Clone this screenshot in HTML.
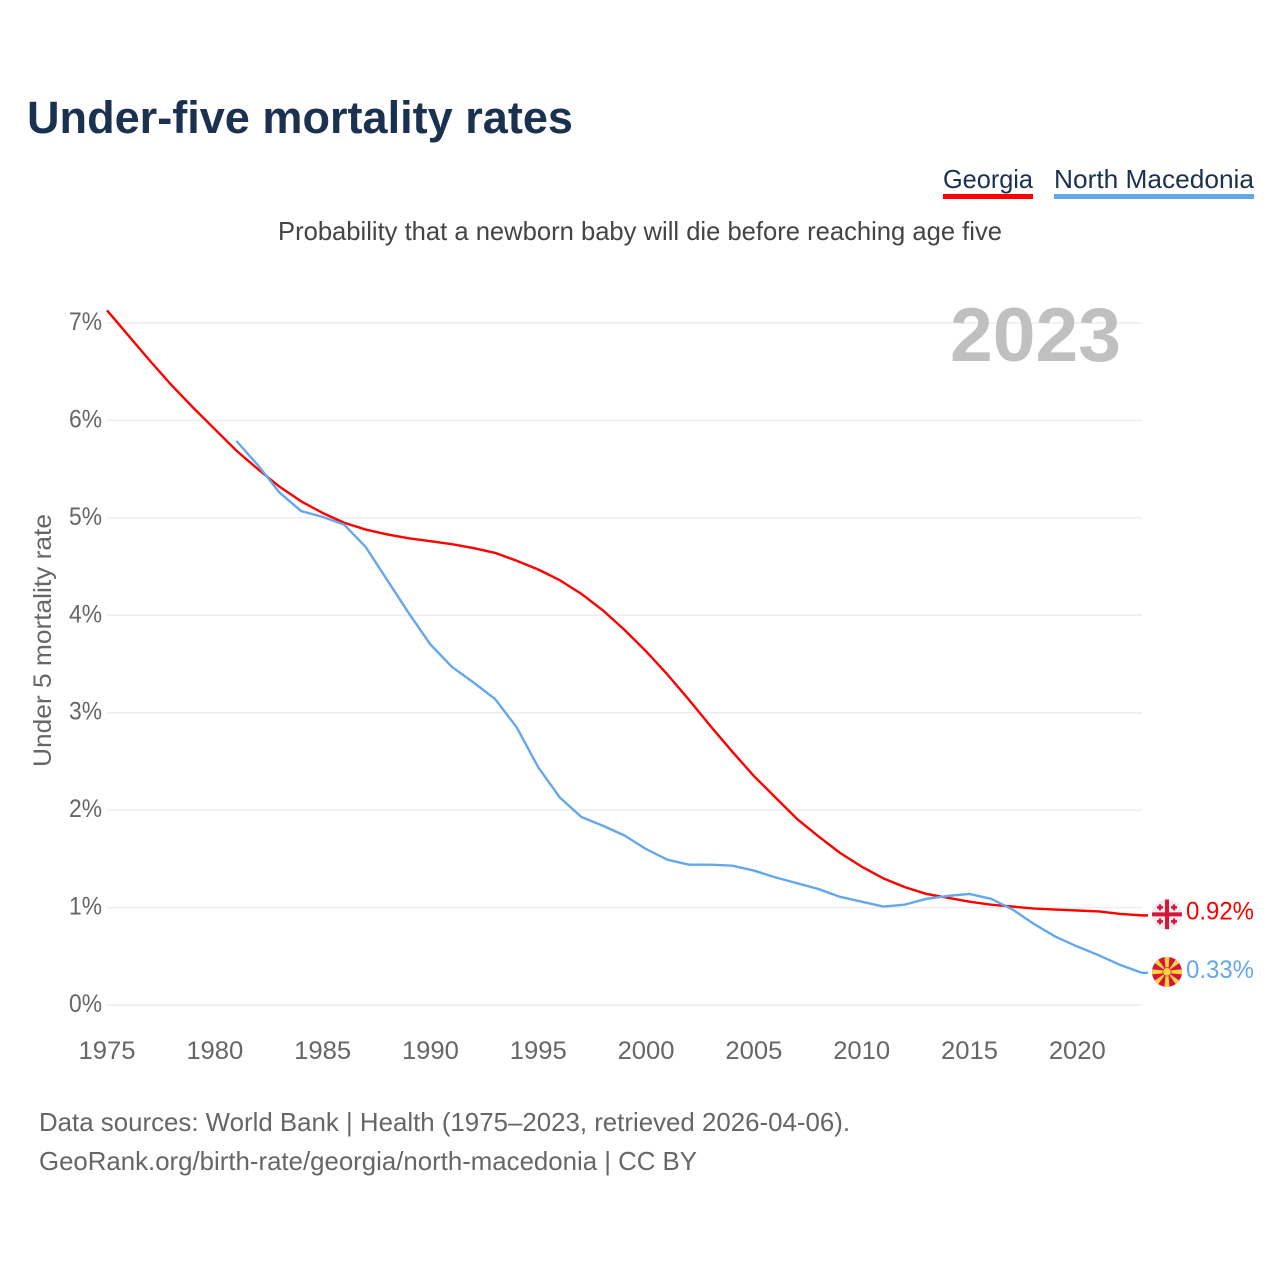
<!DOCTYPE html>
<html lang="en">
<head>
<meta charset="utf-8">
<title>Under-five mortality rates</title>
<style>
html,body{margin:0;padding:0;background:#fff;}
svg{display:block;}
text{font-family:"Liberation Sans",sans-serif;}
</style>
</head>
<body>
<svg id="chart" xmlns="http://www.w3.org/2000/svg" width="1280" height="1280" viewBox="0 0 1280 1280">
  <rect x="0" y="0" width="1280" height="1280" fill="#ffffff"/>
  <text x="27" y="133" font-size="45" font-weight="700" fill="#1a3150" textLength="546" lengthAdjust="spacingAndGlyphs">Under-five mortality rates</text>

  <g>
    <text x="943" y="188" font-size="26" fill="#1a3150" textLength="90" lengthAdjust="spacingAndGlyphs">Georgia</text>
    <rect x="943" y="194" width="90" height="5" fill="#ff0000"/>
  </g>
  <g>
    <text x="1054" y="188" font-size="26" fill="#1a3150" textLength="200" lengthAdjust="spacingAndGlyphs">North Macedonia</text>
    <rect x="1054" y="194" width="200" height="5" fill="#64a8ec"/>
  </g>

  <text x="278" y="240" font-size="26" fill="#444444" textLength="724" lengthAdjust="spacingAndGlyphs">Probability that a newborn baby will die before reaching age five</text>

  <g id="grid"></g>
  <g id="yTicks"></g>
  <g id="xTicks"></g>

  <text x="950" y="361" font-size="76" font-weight="700" fill="#c0c0c0" textLength="171" lengthAdjust="spacingAndGlyphs">2023</text>

  <text transform="translate(51,767) rotate(-90)" x="0" y="0" font-size="25" fill="#666666" textLength="253" lengthAdjust="spacingAndGlyphs">Under 5 mortality rate</text>

  <path id="lineGeorgia" fill="none" stroke="#ff0000" stroke-width="2.4" stroke-linejoin="round"/>
  <path id="lineMacedonia" fill="none" stroke="#64a8ec" stroke-width="2.4" stroke-linejoin="round"/>

  <defs>
    <clipPath id="flagClip"><circle cx="0" cy="0" r="15"/></clipPath>
  </defs>

  <g id="flagGeorgia">
    <g clip-path="url(#flagClip)">
      <rect x="-15" y="-15" width="30" height="30" fill="#eeeeee"/>
      <rect x="-15" y="-2" width="30" height="4" fill="#d8143a"/>
      <rect x="-2" y="-15" width="4" height="30" fill="#d8143a"/>
      <path d="M-7 -10v6M-10 -7h6M7 -10v6M4 -7h6M-7 4v6M-10 7h6M7 4v6M4 7h6" stroke="#d8143a" stroke-width="2.400" fill="none"/>
    </g>
  </g>
  <g id="flagMacedonia">
    <g clip-path="url(#flagClip)">
      <rect x="-15" y="-15" width="30" height="30" fill="#d8143a"/>
      <path d="M-1.200 0L-2.600 -16L2.600 -16L1.200 0Z" fill="#f9d342"/>
      <path d="M-1.200 0L-2.600 -16L2.600 -16L1.200 0Z" fill="#f9d342" transform="rotate(90)"/>
      <path d="M-1.200 0L-2.600 -16L2.600 -16L1.200 0Z" fill="#f9d342" transform="rotate(180)"/>
      <path d="M-1.200 0L-2.600 -16L2.600 -16L1.200 0Z" fill="#f9d342" transform="rotate(270)"/>
      <path d="M0 0L-3 -18L3 -18Z" fill="#f9d342" transform="rotate(45)"/>
      <path d="M0 0L-3 -18L3 -18Z" fill="#f9d342" transform="rotate(135)"/>
      <path d="M0 0L-3 -18L3 -18Z" fill="#f9d342" transform="rotate(225)"/>
      <path d="M0 0L-3 -18L3 -18Z" fill="#f9d342" transform="rotate(315)"/>
      <circle cx="0" cy="0" r="4.200" fill="#f9d342" stroke="#d8143a" stroke-width="0.700"/>
    </g>
  </g>

  <text id="valueGeorgia" x="1186" font-size="25" fill="#ff0000" textLength="68" lengthAdjust="spacingAndGlyphs"></text>
  <text id="valueMacedonia" x="1186" font-size="25" fill="#64a8ec" textLength="68" lengthAdjust="spacingAndGlyphs"></text>

  <text x="39" y="1131" font-size="26" fill="#666666" textLength="811" lengthAdjust="spacingAndGlyphs">Data sources: World Bank | Health (1975–2023, retrieved 2026-04-06).</text>
  <text x="39" y="1170" font-size="26" fill="#666666" textLength="658" lengthAdjust="spacingAndGlyphs">GeoRank.org/birth-rate/georgia/north-macedonia | CC BY</text>
</svg>

<script>
const years = [1975,1976,1977,1978,1979,1980,1981,1982,1983,1984,1985,1986,1987,1988,1989,1990,1991,1992,1993,1994,1995,1996,1997,1998,1999,2000,2001,2002,2003,2004,2005,2006,2007,2008,2009,2010,2011,2012,2013,2014,2015,2016,2017,2018,2019,2020,2021,2022,2023];
const georgiaValues = [7.13,6.87,6.61,6.36,6.13,5.91,5.69,5.50,5.32,5.17,5.05,4.95,4.88,4.83,4.79,4.76,4.73,4.69,4.64,4.56,4.47,4.36,4.22,4.05,3.85,3.63,3.39,3.13,2.86,2.60,2.35,2.13,1.91,1.73,1.56,1.42,1.30,1.21,1.14,1.10,1.06,1.03,1.01,0.99,0.98,0.97,0.96,0.935,0.92];
const macedoniaValues = [null,null,null,null,null,null,5.79,5.54,5.26,5.07,5.01,4.93,4.70,4.36,4.02,3.70,3.47,3.31,3.14,2.85,2.44,2.13,1.93,1.84,1.74,1.60,1.49,1.44,1.44,1.43,1.38,1.31,1.25,1.19,1.11,1.06,1.01,1.03,1.09,1.12,1.14,1.09,0.98,0.83,0.70,0.60,0.51,0.41,0.33];
const yTickValues = [0,1,2,3,4,5,6,7];
const yTickLabels = ["0%","1%","2%","3%","4%","5%","6%","7%"];
const xTickValues = [1975,1980,1985,1990,1995,2000,2005,2010,2015,2020];
const xTickLabels = ["1975","1980","1985","1990","1995","2000","2005","2010","2015","2020"];
const georgiaLabel = "0.92%";
const macedoniaLabel = "0.33%";

const SVG_NS = "http://www.w3.org/2000/svg";
function xScale(year){ return 107 + (year - 1975) * (1142 - 107) / (2023 - 1975); }
function yScale(v){ return 1005 - v * (1005 - 323) / 7; }

const gridGroup = document.getElementById("grid");
const yGroup = document.getElementById("yTicks");
yTickValues.forEach(function(v, i){
  const gridLine = document.createElementNS(SVG_NS, "line");
  
  
  gridLine.setAttribute("x1", xScale(1975));
  gridLine.setAttribute("x2", xScale(2023));
  gridLine.setAttribute("y1", yScale(v));
  gridLine.setAttribute("y2", yScale(v));
  gridLine.setAttribute("stroke", "#eeeeee");
  gridLine.setAttribute("stroke-width", "1.500");
  gridGroup.appendChild(gridLine);

  const label = document.createElementNS(SVG_NS, "text");
  
  
  label.setAttribute("x", 69);
  label.setAttribute("y", yScale(v) + 7);
  label.setAttribute("font-size", "25");
  label.setAttribute("fill", "#666666");
  label.setAttribute("textLength", "33");
  label.setAttribute("lengthAdjust", "spacingAndGlyphs");
  label.textContent = yTickLabels[i];
  yGroup.appendChild(label);
});

const xGroup = document.getElementById("xTicks");
xTickValues.forEach(function(year, i){
  const label = document.createElementNS(SVG_NS, "text");
  
  
  label.setAttribute("x", xScale(year) - 28.5);
  label.setAttribute("y", 1059);
  label.setAttribute("font-size", "25");
  label.setAttribute("fill", "#666666");
  label.setAttribute("textLength", "57");
  label.setAttribute("lengthAdjust", "spacingAndGlyphs");
  label.textContent = xTickLabels[i];
  xGroup.appendChild(label);
});

function linePath(values){
  let d = "";
  let last = null;
  values.forEach(function(v, i){
    if (v === null) return;
    d += (d === "" ? "M" : "L") + xScale(years[i]).toFixed(2) + " " + yScale(v).toFixed(2);
    last = v;
  });
  d += "L" + (xScale(years[years.length - 1]) + 6).toFixed(2) + " " + yScale(last).toFixed(2);
  return d;
}
document.getElementById("lineGeorgia").setAttribute("d", linePath(georgiaValues));
document.getElementById("lineMacedonia").setAttribute("d", linePath(macedoniaValues));

const georgiaEnd = yScale(georgiaValues[georgiaValues.length - 1]);
const macedoniaEnd = yScale(macedoniaValues[macedoniaValues.length - 1]);
document.getElementById("flagGeorgia").setAttribute("transform", "translate(1167," + (georgiaEnd - 1) + ")");
document.getElementById("flagMacedonia").setAttribute("transform", "translate(1167," + (macedoniaEnd - 1) + ")");
const valueGeorgia = document.getElementById("valueGeorgia");
valueGeorgia.setAttribute("y", georgiaEnd + 4);
valueGeorgia.textContent = georgiaLabel;
const valueMacedonia = document.getElementById("valueMacedonia");
valueMacedonia.setAttribute("y", macedoniaEnd + 5);
valueMacedonia.textContent = macedoniaLabel;
</script>
</body>
</html>
